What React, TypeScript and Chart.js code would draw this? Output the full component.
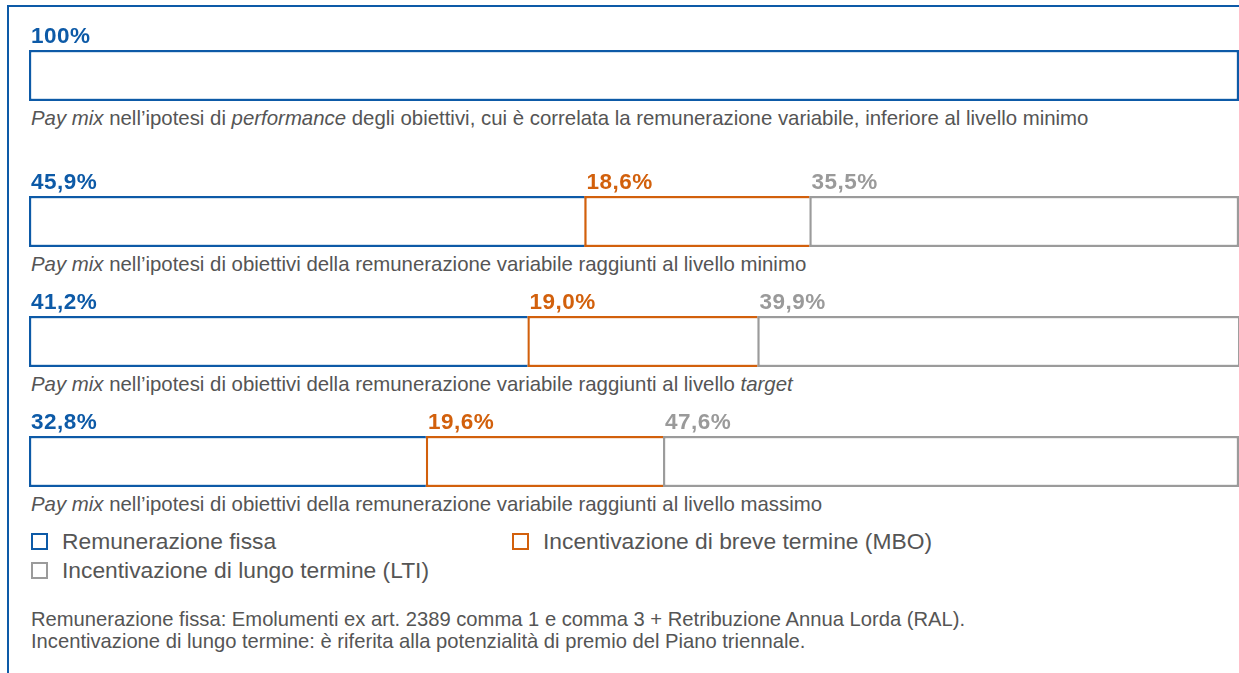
import React, { useEffect, useRef } from "react";
import { Chart, registerables } from "chart.js";

Chart.register(...registerables);

// ---------- data ----------
const seriesNames = [
  "Remunerazione fissa",
  "Incentivazione di breve termine (MBO)",
  "Incentivazione di lungo termine (LTI)",
];
const fixedPay = [100, 45.9, 41.2, 32.8];
const shortTermMBO = [0, 18.6, 19.0, 19.6];
const longTermLTI = [0, 35.5, 39.9, 47.6];
const captions = [
  "*Pay mix* nell’ipotesi di *performance* degli obiettivi, cui è correlata la remunerazione variabile, inferiore al livello minimo",
  "*Pay mix* nell’ipotesi di obiettivi della remunerazione variabile raggiunti al livello minimo",
  "*Pay mix* nell’ipotesi di obiettivi della remunerazione variabile raggiunti al livello *target*",
  "*Pay mix* nell’ipotesi di obiettivi della remunerazione variabile raggiunti al livello massimo",
];
const footnotes = [
  "Remunerazione fissa: Emolumenti ex art. 2389 comma 1 e comma 3 + Retribuzione Annua Lorda (RAL).",
  "Incentivazione di lungo termine: è riferita alla potenzialità di premio del Piano triennale.",
];

// ---------- style ----------
const BLUE = "#0d5aa7";
const ORANGE = "#d2600c";
const GREY = "#9b9b9b";
const GREY_TEXT = "#9a9a9a";
const TEXT = "#555555";
const seriesColors = [BLUE, ORANGE, GREY];
const labelColors = [BLUE, ORANGE, GREY_TEXT];
const FONT = "'Liberation Sans', Arial, Helvetica, sans-serif";
const BW = 2.5;
const barTops = [50, 196, 316, 436];
const BAR_H = 51;
const LABEL_SPACE = 30;
const CHART_LEFT = 29;
const CHART_W = 1210;

const fmt = (v: number) =>
  (v >= 100 ? String(v) : v.toFixed(1).replace(".", ",")) + "%";

function renderCaption(text: string) {
  const parts = text.split("*");
  return parts.map((p, i) =>
    i % 2 === 1 ? <i key={i}>{p}</i> : <span key={i}>{p}</span>
  );
}

function RowChart({ row }: { row: number }) {
  const ref = useRef<HTMLCanvasElement>(null);
  useEffect(() => {
    const values = [fixedPay[row], shortTermMBO[row], longTermLTI[row]];
    const last = values.reduce((acc, v, i) => (v > 0 ? i : acc), 0);
    const datasets = values.map((v, i) => ({
      label: seriesNames[i],
      data: [v],
      backgroundColor: "#ffffff",
      borderColor: seriesColors[i],
      borderWidth: {
        top: BW,
        bottom: BW,
        left: BW,
        right: i === last ? BW : 0,
      },
      borderSkipped: false as const,
      barPercentage: 1,
      categoryPercentage: 1,
    }));
    const labelPlugin = {
      id: "segLabels",
      afterDatasetsDraw(chart: any) {
        const ctx = chart.ctx as CanvasRenderingContext2D;
        const xs = chart.scales.x;
        let cum = 0;
        ctx.save();
        ctx.font = `bold 22.5px ${FONT}`;
        (ctx as any).letterSpacing = "0.5px";
        ctx.textBaseline = "alphabetic";
        ctx.textAlign = "left";
        values.forEach((v, i) => {
          if (v > 0) {
            ctx.fillStyle = labelColors[i];
            ctx.fillText(fmt(v), xs.getPixelForValue(cum) + 2, chart.chartArea.top - 7);
          }
          cum += v;
        });
        ctx.restore();
      },
    };
    const chart = new Chart(ref.current as HTMLCanvasElement, {
      type: "bar",
      data: { labels: [""], datasets: datasets as any },
      options: {
        indexAxis: "y",
        responsive: false,
        animation: false,
        layout: { padding: { top: LABEL_SPACE, left: 0, right: 0, bottom: 0 } },
        plugins: { legend: { display: false }, tooltip: { enabled: false } },
        scales: {
          x: { stacked: true, min: 0, max: 100, display: false },
          y: { stacked: true, display: false },
        },
      },
      plugins: [labelPlugin],
    });
    return () => chart.destroy();
  }, [row]);
  return (
    <canvas
      ref={ref}
      width={CHART_W}
      height={BAR_H + LABEL_SPACE}
      style={{
        position: "absolute",
        left: CHART_LEFT,
        top: barTops[row] - LABEL_SPACE,
        width: CHART_W,
        height: BAR_H + LABEL_SPACE,
      }}
    />
  );
}

function LegendItem({ idx, left, top }: { idx: number; left: number; top: number }) {
  return (
    <div style={{ position: "absolute", left, top, height: 28, display: "flex", alignItems: "center" }}>
      <div
        style={{
          width: 17,
          height: 17,
          boxSizing: "border-box",
          border: `2.5px solid ${seriesColors[idx]}`,
          marginRight: 14,
        }}
      />
      <span style={{ fontFamily: FONT, fontSize: 22.8, color: TEXT, whiteSpace: "nowrap" }}>
        {seriesNames[idx]}
      </span>
    </div>
  );
}

export default function App() {
  return (
    <div
      style={{
        position: "absolute",
        left: 0,
        top: 0,
        width: 1239,
        height: 673,
        background: "#ffffff",
        overflow: "hidden",
      }}
    >
      <div
        style={{
          position: "absolute",
          left: 7,
          top: 5,
          width: 1240,
          height: 680,
          borderTop: `2px solid ${BLUE}`,
          borderLeft: `2px solid ${BLUE}`,
        }}
      />
      {barTops.map((_, r) => (
        <RowChart key={r} row={r} />
      ))}
      {captions.map((c, r) => (
        <div
          key={r}
          style={{
            position: "absolute",
            left: 31,
            top: barTops[r] + BAR_H + 5,
            lineHeight: "24px",
            fontFamily: FONT,
            fontSize: 20.4,
            color: TEXT,
            whiteSpace: "nowrap",
          }}
        >
          {renderCaption(c)}
        </div>
      ))}
      <LegendItem idx={0} left={31} top={527} />
      <LegendItem idx={1} left={512} top={527} />
      <LegendItem idx={2} left={31} top={556} />
      {footnotes.map((f, i) => (
        <div
          key={i}
          style={{
            position: "absolute",
            left: 31,
            top: 608 + i * 22,
            lineHeight: "22px",
            fontFamily: FONT,
            fontSize: 20.2,
            color: TEXT,
            whiteSpace: "nowrap",
          }}
        >
          {f}
        </div>
      ))}
    </div>
  );
}
